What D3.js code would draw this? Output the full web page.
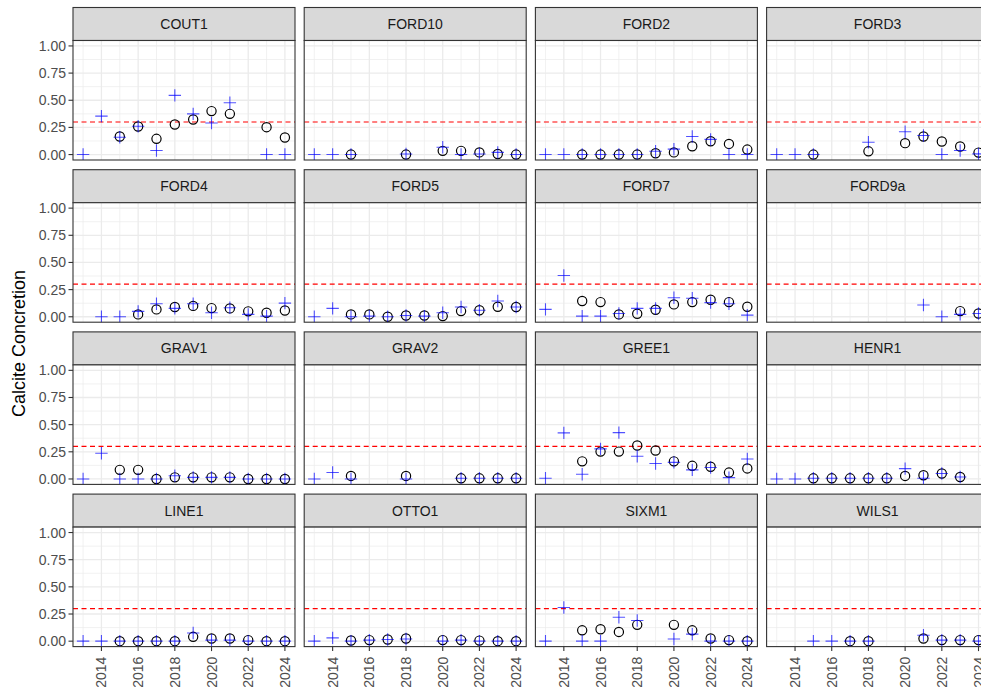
<!DOCTYPE html>
<html>
<head>
<meta charset="utf-8">
<script src="https://cdn.jsdelivr.net/npm/d3@7/dist/d3.min.js"></script>
<style>
  html, body { margin: 0; padding: 0; background: #fff; }
  svg { display: block; }
  text { font-family: "Liberation Sans", Arial, sans-serif; }
</style>
</head>
<body>
<svg id="chart" width="981" height="690"></svg>
<script>
// ---------------- DATA ----------------
const years = [2013, 2014, 2015, 2016, 2017, 2018, 2019, 2020, 2021, 2022, 2023, 2024];
const xTickLabels = [2014, 2016, 2018, 2020, 2022, 2024];
const yTickLabels = [0, 0.25, 0.5, 0.75, 1];
const threshold = 0.3;
const yTitle = "Calcite Concretion";
const sites = ["COUT1", "FORD10", "FORD2", "FORD3", "FORD4", "FORD5", "FORD7", "FORD9a",
               "GRAV1", "GRAV2", "GREE1", "HENR1", "LINE1", "OTTO1", "SIXM1", "WILS1"];

// circle series (black open circles), one value per year, null = no observation
const cout1Circle  = [null, null, 0.166, 0.258, 0.145, 0.277, 0.323, 0.40, 0.375, null, 0.252, 0.157];
const ford10Circle = [null, null, 0, null, null, 0, null, 0.034, 0.034, 0.02, 0.005, 0];
const ford2Circle  = [null, null, 0, 0, 0, 0, 0.012, 0.02, 0.077, 0.123, 0.098, 0.046];
const ford3Circle  = [null, null, 0, null, null, 0.03, null, 0.105, 0.166, 0.12, 0.074, 0.018];
const ford4Circle  = [null, null, null, 0.022, 0.068, 0.09, 0.10, 0.08, 0.077, 0.05, 0.037, 0.058];
const ford5Circle  = [null, null, 0.022, 0.022, 0, 0.012, 0.012, 0.006, 0.052, 0.06, 0.092, 0.09];
const ford7Circle  = [null, null, 0.145, 0.135, 0.022, 0.028, 0.065, 0.114, 0.135, 0.157, 0.135, 0.092];
const ford9aCircle = [null, null, null, null, null, null, null, null, null, null, 0.052, 0.03];
const grav1Circle  = [null, null, 0.084, 0.084, 0, 0.015, 0.015, 0.015, 0.015, 0, 0, 0];
const grav2Circle  = [null, null, 0.028, null, null, 0.028, null, null, 0.006, 0.006, 0.006, 0.006];
const gree1Circle  = [null, null, 0.162, 0.252, 0.252, 0.308, 0.262, 0.162, 0.121, 0.112, 0.059, 0.097];
const henr1Circle  = [null, null, 0.006, 0.006, 0.006, 0.006, 0.006, 0.028, 0.034, 0.05, 0.018, null];
const line1Circle  = [null, null, 0, 0, 0, 0, 0.04, 0.025, 0.025, 0.01, 0, 0];
const otto1Circle  = [null, null, 0.006, 0.01, 0.015, 0.025, null, 0.01, 0.01, 0.005, 0, 0];
const sixm1Circle  = [null, null, 0.10, 0.11, 0.085, 0.15, null, 0.15, 0.10, 0.025, 0.01, 0];
const wils1Circle  = [null, null, null, null, 0, 0, null, null, 0.025, 0.01, 0.01, 0.01];

// plus series (blue crosses)
const cout1Plus  = [0, 0.354, 0.16, 0.26, 0.037, 0.545, 0.375, 0.29, 0.477, null, 0, 0];
const ford10Plus = [0, 0, 0, null, null, 0.005, null, 0.068, 0, 0.005, 0.02, 0];
const ford2Plus  = [0, 0, 0, 0, 0, 0, 0.03, 0.05, 0.166, 0.14, 0, 0];
const ford3Plus  = [0, 0, 0, null, null, 0.114, null, 0.21, 0.175, 0, 0.037, 0.006];
const ford4Plus  = [null, 0, 0, 0.05, 0.12, 0.077, 0.12, 0.037, 0.083, 0.022, 0.006, 0.126];
const ford5Plus  = [0, 0.077, 0, 0.006, 0, 0.012, 0.006, 0.037, 0.09, 0.06, 0.145, 0.09];
const ford7Plus  = [0.068, 0.38, 0.006, 0.006, 0.03, 0.077, 0.077, 0.175, 0.17, 0.13, 0.12, 0.015];
const ford9aPlus = [null, null, null, null, null, null, null, null, 0.108, 0, 0.022, 0.03];
const grav1Plus  = [0, 0.237, 0, 0, 0, 0.03, 0.015, 0.015, 0.015, 0, 0, 0];
const grav2Plus  = [0, 0.06, 0, null, null, 0, null, null, 0.006, 0.006, 0.006, 0.006];
const gree1Plus  = [0.006, 0.424, 0.044, 0.277, 0.427, 0.209, 0.143, 0.153, 0.084, 0.106, 0.012, 0.184];
const henr1Plus  = [0, 0, 0.006, 0.006, 0.006, 0.006, 0.006, 0.095, 0.006, 0.05, 0.018, null];
const line1Plus  = [0, 0, 0, 0, 0, 0, 0.075, 0.01, 0.01, 0, 0, 0];
const otto1Plus  = [0, 0.03, 0, 0.01, 0.015, 0.02, null, 0, 0.01, 0, 0, 0];
const sixm1Plus  = [0, 0.31, 0, 0, 0.22, 0.19, null, 0.02, 0.065, 0, 0, 0];
const wils1Plus  = [null, null, 0, 0, 0, 0, null, null, 0.055, 0.01, 0.01, 0];

const circleSeries = [cout1Circle, ford10Circle, ford2Circle, ford3Circle, ford4Circle, ford5Circle,
  ford7Circle, ford9aCircle, grav1Circle, grav2Circle, gree1Circle, henr1Circle,
  line1Circle, otto1Circle, sixm1Circle, wils1Circle];
const plusSeries = [cout1Plus, ford10Plus, ford2Plus, ford3Plus, ford4Plus, ford5Plus,
  ford7Plus, ford9aPlus, grav1Plus, grav2Plus, gree1Plus, henr1Plus,
  line1Plus, otto1Plus, sixm1Plus, wils1Plus];

// ---------------- LAYOUT ----------------
const svg = d3.select("#chart");
const nCol = 4;
const left0 = 73, colStep = 231.2, panelW = 222;
const top0 = 7.5, rowStep = 162.2, stripH = 33, panelH = 119.5;

const x = d3.scaleLinear().domain([2012.45, 2024.55]).range([0, panelW]);
const y = d3.scaleLinear().domain([-0.05, 1.05]).range([panelH, 0]);

const xMinor = d3.range(2013, 2025, 2);
const yMinor = [0.125, 0.375, 0.625, 0.875];

const defs = svg.append("defs");
defs.append("clipPath").attr("id", "pclip")
  .append("rect").attr("x", 0).attr("y", 0).attr("width", panelW).attr("height", panelH);

const nRow = Math.ceil(sites.length / nCol);

sites.forEach((site, i) => {
  const col = i % nCol, row = Math.floor(i / nCol);
  const gx = left0 + col * colStep;
  const gy = top0 + row * rowStep;
  const g = svg.append("g").attr("transform", `translate(${gx},${gy})`);

  // strip
  g.append("rect").attr("x", 0).attr("y", 0).attr("width", panelW).attr("height", stripH)
    .attr("fill", "#D9D9D9").attr("stroke", "#333333").attr("stroke-width", 1.1);
  g.append("text").attr("x", panelW / 2).attr("y", stripH / 2)
    .attr("text-anchor", "middle").attr("dominant-baseline", "central")
    .attr("font-size", 14).attr("fill", "#1A1A1A").text(site);

  const p = g.append("g").attr("transform", `translate(0,${stripH})`);
  p.append("rect").attr("width", panelW).attr("height", panelH).attr("fill", "#fff");

  // minor grid
  p.selectAll(".vmin").data(xMinor).join("line")
    .attr("x1", d => x(d)).attr("x2", d => x(d)).attr("y1", 0).attr("y2", panelH)
    .attr("stroke", "#EBEBEB").attr("stroke-width", 0.7);
  p.selectAll(".hmin").data(yMinor).join("line")
    .attr("y1", d => y(d)).attr("y2", d => y(d)).attr("x1", 0).attr("x2", panelW)
    .attr("stroke", "#EBEBEB").attr("stroke-width", 0.7);
  // major grid
  p.selectAll(".vmaj").data(xTickLabels).join("line")
    .attr("x1", d => x(d)).attr("x2", d => x(d)).attr("y1", 0).attr("y2", panelH)
    .attr("stroke", "#EBEBEB").attr("stroke-width", 1.3);
  p.selectAll(".hmaj").data(yTickLabels).join("line")
    .attr("y1", d => y(d)).attr("y2", d => y(d)).attr("x1", 0).attr("x2", panelW)
    .attr("stroke", "#EBEBEB").attr("stroke-width", 1.3);

  // threshold
  p.append("line").attr("x1", 0).attr("x2", panelW)
    .attr("y1", y(threshold)).attr("y2", y(threshold))
    .attr("stroke", "#FF0000").attr("stroke-width", 1.2).attr("stroke-dasharray", "5,3.5");

  const marks = p.append("g").attr("clip-path", "url(#pclip)");
  const cData = years.map((yr, k) => ({ yr, v: circleSeries[i][k] })).filter(d => d.v !== null);
  const pData = years.map((yr, k) => ({ yr, v: plusSeries[i][k] })).filter(d => d.v !== null);

  marks.selectAll("circle").data(cData).join("circle")
    .attr("cx", d => x(d.yr)).attr("cy", d => y(d.v)).attr("r", 4.6)
    .attr("fill", "none").attr("stroke", "#000").attr("stroke-width", 1.2);

  const ps = 6.2;
  const pg = marks.selectAll(".plus").data(pData).join("g")
    .attr("transform", d => `translate(${x(d.yr)},${y(d.v)})`);
  pg.append("line").attr("x1", -ps).attr("x2", ps).attr("y1", 0).attr("y2", 0)
    .attr("stroke", "rgba(0,0,255,0.68)").attr("stroke-width", 1.1);
  pg.append("line").attr("y1", -ps).attr("y2", ps).attr("x1", 0).attr("x2", 0)
    .attr("stroke", "rgba(0,0,255,0.68)").attr("stroke-width", 1.1);

  // panel border
  p.append("rect").attr("width", panelW).attr("height", panelH)
    .attr("fill", "none").attr("stroke", "#333333").attr("stroke-width", 1.1);

  // y axis on left column
  if (col === 0) {
    const ya = p.append("g");
    ya.selectAll("line").data(yTickLabels).join("line")
      .attr("x1", -4.5).attr("x2", 0).attr("y1", d => y(d)).attr("y2", d => y(d))
      .attr("stroke", "#333333").attr("stroke-width", 1.1);
    ya.selectAll("text").data(yTickLabels).join("text")
      .attr("x", -7).attr("y", d => y(d)).attr("text-anchor", "end")
      .attr("dominant-baseline", "central").attr("font-size", 14).attr("fill", "#4D4D4D")
      .text(d => d3.format(".2f")(d));
  }
  // x axis on bottom row
  if (row === nRow - 1) {
    const xa = p.append("g").attr("transform", `translate(0,${panelH})`);
    xa.selectAll("line").data(xTickLabels).join("line")
      .attr("x1", d => x(d)).attr("x2", d => x(d)).attr("y1", 0).attr("y2", 4.5)
      .attr("stroke", "#333333").attr("stroke-width", 1.1);
    xa.selectAll("text").data(xTickLabels).join("text")
      .attr("transform", d => `translate(${x(d)},10) rotate(-90)`)
      .attr("text-anchor", "end").attr("dominant-baseline", "central")
      .attr("font-size", 14).attr("fill", "#4D4D4D").text(d => d);
  }
});

// y title
const plotMidY = (top0 + stripH + top0 + (nRow - 1) * rowStep + stripH + panelH) / 2;
svg.append("text")
  .attr("transform", `translate(19,${plotMidY}) rotate(-90)`)
  .attr("text-anchor", "middle").attr("dominant-baseline", "central")
  .attr("font-size", 18).attr("fill", "#000").text(yTitle);
</script>
</body>
</html>
